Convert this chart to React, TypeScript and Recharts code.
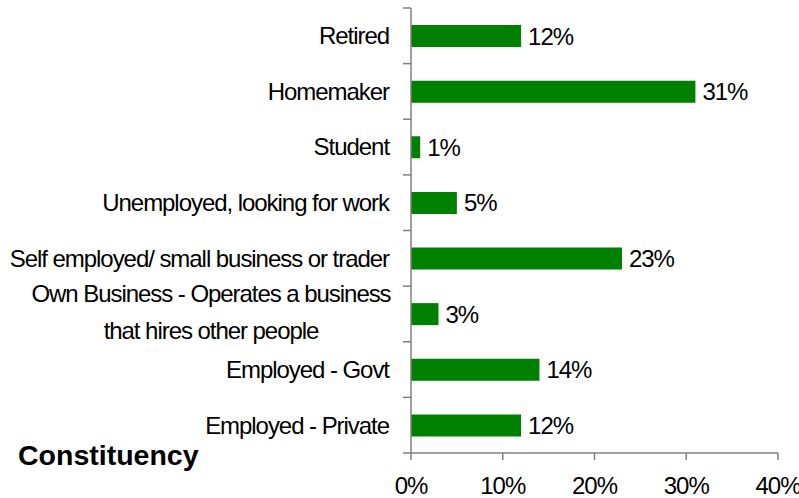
import { BarChart, Bar, XAxis, YAxis, LabelList } from 'recharts';

/* ── Data ── */
const categories = [
  'Retired',
  'Homemaker',
  'Student',
  'Unemployed, looking for work',
  'Self employed/ small business or trader',
  'Own Business - Operates a business\nthat hires other people',
  'Employed - Govt',
  'Employed - Private',
];
const shares = [12, 31, 1, 5, 23, 3, 14, 12];
const xTicks = [0, 10, 20, 30, 40];

const data = categories.map((name, i) => ({ name, value: shares[i] }));

/* ── Theme ── */
const FONT = '"Liberation Sans", Arial, sans-serif';
const FS = 24;
const LS = -1.05;
const GREEN = '#008000';
const AXIS = '#808080';
const W = 799;
const H = 498;
const TOP = 8;
const BOTTOM = 45;
const BAND = (H - TOP - BOTTOM) / categories.length;

const CatTick = ({ x, y, payload, index }: any) => {
  const lines = String(payload.value).split('\n');
  const last = index === categories.length - 1;
  return (
    <g>
      <line x1={x - 8} x2={x} y1={y - BAND / 2} y2={y - BAND / 2} stroke={AXIS} strokeWidth={1.5} />
      {last && <line x1={x - 8} x2={x} y1={y + BAND / 2} y2={y + BAND / 2} stroke={AXIS} strokeWidth={1.5} />}
      {lines.length === 1 ? (
        <text x={x - 22} y={y} dy="0.35em" textAnchor="end" fontSize={FS} fill="#000" fontFamily={FONT} letterSpacing={LS}>
          {lines[0]}
        </text>
      ) : (
        lines.map((l, i) => (
          <text key={i} x={x - 200} y={y - 20 + i * 37} dy="0.35em" textAnchor="middle" fontSize={FS} fill="#000" fontFamily={FONT} letterSpacing={LS}>
            {l}
          </text>
        ))
      )}
    </g>
  );
};

export default function App() {
  return (
    <div style={{ position: 'relative', width: W, height: H, background: '#fff' }}>
      <style>{`body{margin:0}`}</style>
      <BarChart width={W} height={H} data={data} layout="vertical" margin={{ top: TOP, right: 21, left: 0, bottom: 0 }}>
        <XAxis
          type="number"
          domain={[0, 40]}
          ticks={xTicks}
          tickFormatter={(v) => `${v}%`}
          height={BOTTOM}
          tickSize={7}
          tickMargin={17}
          axisLine={{ stroke: AXIS, strokeWidth: 1.5 }}
          tickLine={{ stroke: AXIS, strokeWidth: 1.5 }}
          tick={{ fill: '#000', fontSize: FS, fontFamily: FONT, letterSpacing: LS }}
        />
        <YAxis
          type="category"
          dataKey="name"
          width={411}
          tickSize={0}
          tickMargin={0}
          tickLine={false}
          axisLine={{ stroke: AXIS, strokeWidth: 1.5 }}
          tick={<CatTick />}
          interval={0}
        />
        <Bar dataKey="value" fill={GREEN} barSize={22} isAnimationActive={false}>
          <LabelList
            dataKey="value"
            position="right"
            offset={7}
            formatter={(v: any) => `${v}%`}
            fill="#000"
            fontSize={FS}
            fontFamily={FONT}
            letterSpacing={LS}
          />
        </Bar>
      </BarChart>
      <div style={{ position: 'absolute', left: 18, top: 439, fontFamily: FONT, fontWeight: 'bold', fontSize: 28.5, color: '#000' }}>
        Constituency
      </div>
    </div>
  );
}
